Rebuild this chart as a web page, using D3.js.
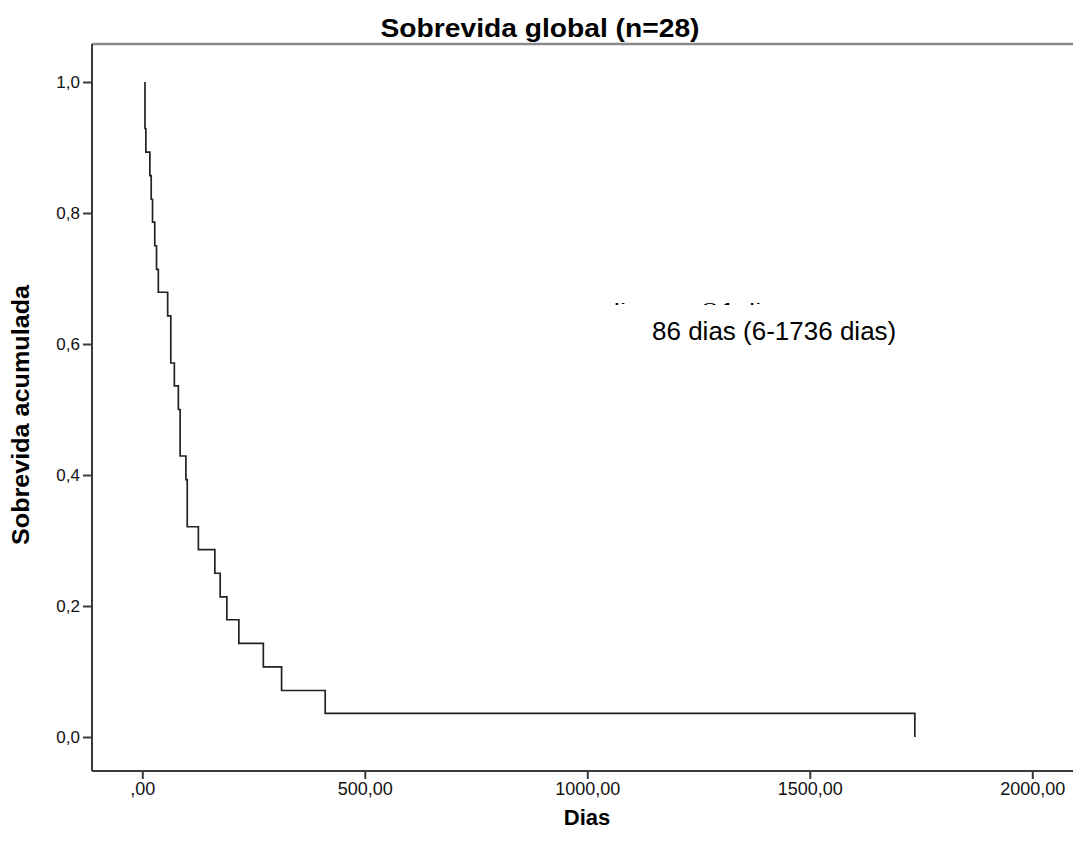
<!DOCTYPE html>
<html>
<head>
<meta charset="utf-8">
<script src="https://cdn.jsdelivr.net/npm/d3@7"></script>
<style>
  body { margin: 0; background: #fff; }
  svg { display: block; font-family: "Liberation Sans", Arial, sans-serif; }
</style>
</head>
<body>
<div id="chart"></div>
<script>
// event times (days) and cumulative survival after each event
var eventDays = [6, 6, 8, 17, 20, 23, 28, 32, 36, 57, 64, 72, 81, 85, 98, 101, 126, 163, 175, 190, 217, 272, 313, 411, 1736];
var survival  = [0.964, 0.929, 0.893, 0.857, 0.821, 0.786, 0.750, 0.714, 0.679, 0.643, 0.571, 0.536, 0.500, 0.429, 0.393, 0.321, 0.286, 0.250, 0.214, 0.179, 0.143, 0.107, 0.071, 0.036, 0.000];
var xTicks = [0, 500, 1000, 1500, 2000];
var yTicks = [0, 0.2, 0.4, 0.6, 0.8, 1.0];
var title = "Sobrevida global (n=28)";
var xLabel = "Dias";
var yLabel = "Sobrevida acumulada";
var noteHidden = "mediana = 84 dias";
var note = "86 dias (6-1736 dias)";

var W = 1073, H = 851;
var plotLeft = 92, plotRight = 1073, plotTop = 44, plotBottom = 771;

var svg = d3.select("#chart").append("svg")
    .attr("width", W)
    .attr("height", H);

// Scales
var x = d3.scaleLinear().domain([0, 2000]).range([142.3, 1032.3]);
var y = d3.scaleLinear().domain([0, 1]).range([737, 82]);

// top border (grey)
svg.append("line")
    .attr("x1", plotLeft).attr("x2", plotRight)
    .attr("y1", plotTop).attr("y2", plotTop)
    .attr("stroke", "#8a8a8a").attr("stroke-width", 2.5);

// Y-axis
var yAxis = d3.axisLeft(y)
    .tickValues(yTicks)
    .tickSize(9)
    .tickPadding(3)
    .tickFormat(function (d) { return d3.format(".1f")(d).replace(".", ","); });
var gy = svg.append("g")
    .attr("transform", "translate(" + plotLeft + ",0)")
    .call(yAxis);
gy.select(".domain").remove();
gy.append("line")
    .attr("x1", 0).attr("x2", 0)
    .attr("y1", plotTop).attr("y2", plotBottom)
    .attr("stroke", "#3a3a3a").attr("stroke-width", 2);

// X-axis
var xAxis = d3.axisBottom(x)
    .tickValues(xTicks)
    .tickSize(8)
    .tickPadding(3)
    .tickFormat(function (d) { return d === 0 ? ",00" : d.toFixed(2).replace(".", ","); });
var gx = svg.append("g")
    .attr("transform", "translate(0," + plotBottom + ")")
    .call(xAxis);
gx.select(".domain").remove();
gx.append("line")
    .attr("x1", plotLeft).attr("x2", plotRight)
    .attr("y1", 0).attr("y2", 0)
    .attr("stroke", "#3a3a3a").attr("stroke-width", 2);

svg.selectAll(".tick line").attr("stroke", "#3a3a3a").attr("stroke-width", 2);
gy.selectAll(".tick text").attr("font-size", 17).attr("fill", "#111")
    .attr("font-family", "Liberation Sans, Arial, sans-serif");
gx.selectAll(".tick text").attr("font-size", 18).attr("fill", "#111")
    .attr("font-family", "Liberation Sans, Arial, sans-serif");

// Kaplan-Meier step curve
var pts = [[eventDays[0], 1]];
eventDays.forEach(function (d, i) { pts.push([d, survival[i]]); });
var line = d3.line()
    .x(function (d) { return x(d[0]); })
    .y(function (d) { return y(d[1]); })
    .curve(d3.curveStepAfter);
svg.append("path")
    .datum(pts)
    .attr("d", line)
    .attr("fill", "none")
    .attr("stroke", "#222")
    .attr("stroke-width", 1.7);

// Title
svg.append("text")
    .attr("x", 540).attr("y", 37)
    .attr("text-anchor", "middle")
    .attr("font-size", 26).attr("font-weight", "bold")
    .attr("textLength", 319).attr("lengthAdjust", "spacingAndGlyphs")
    .text(title);

// axis labels
svg.append("text")
    .attr("x", 587).attr("y", 825)
    .attr("text-anchor", "middle")
    .attr("font-size", 22).attr("font-weight", "bold")
    .text(xLabel);

svg.append("text")
    .attr("transform", "translate(29,415) rotate(-90)")
    .attr("text-anchor", "middle")
    .attr("font-size", 23).attr("font-weight", "bold")
    .attr("textLength", 260).attr("lengthAdjust", "spacingAndGlyphs")
    .text(yLabel);

// annotation: first line is hidden in the original, only ascender tops show
svg.append("clipPath").attr("id", "noteclip")
    .append("rect").attr("x", 560).attr("y", 303).attr("width", 300).attr("height", 2);
svg.append("text")
    .attr("clip-path", "url(#noteclip)")
    .attr("x", 567).attr("y", 312)
    .attr("font-size", 12)
    .attr("textLength", 223).attr("lengthAdjust", "spacingAndGlyphs")
    .text(noteHidden);

svg.append("text")
    .attr("x", 652).attr("y", 340)
    .attr("font-size", 26)
    .text(note);
</script>
</body>
</html>
